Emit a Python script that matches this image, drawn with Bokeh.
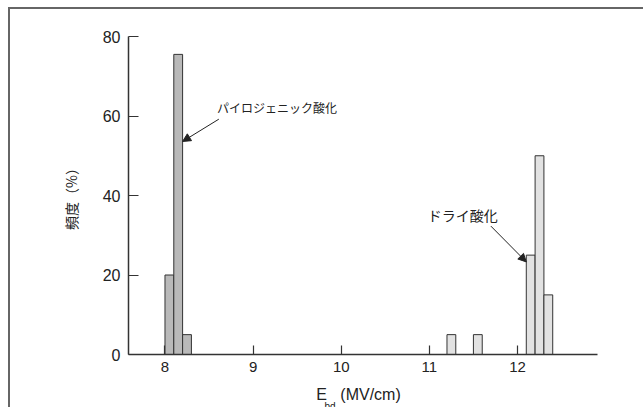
from bokeh.plotting import figure
from bokeh.models import Range1d, FixedTicker, Label, Arrow, NormalHead, Title
from bokeh.embed import file_html
from bokeh.resources import INLINE

# ---- data ----
bin_width = 0.1
pyro_bin_start = [8.0, 8.1, 8.2]
pyro_freq = [20, 75.5, 5]
dry_bin_start = [11.2, 11.5, 12.1, 12.2, 12.3]
dry_freq = [5, 5, 25, 50, 15]
x_ticks = [8, 9, 10, 11, 12]
y_ticks = [0, 20, 40, 60, 80]
pyro_label = "パイロジェニック酸化"
dry_label = "ドライ酸化"
y_label = "頻度（%）"
NB = "\u00a0"
x_label_main = "E" + NB * 3 + "(MV/cm)" + NB * 2
x_label_sub = "bd"

JP = "Noto Sans CJK JP"
LAT = "Liberation Sans"
INK = "#222222"

p = figure(width=643, height=407, output_backend="svg", toolbar_location=None,
           x_range=Range1d(7.586, 12.908), y_range=Range1d(0, 80),
           min_border_left=128, min_border_right=46, min_border_top=36, min_border_bottom=53)
p.grid.visible = False
p.outline_line_color = None
p.background_fill_color = "white"
p.border_fill_color = None
p.styles = {"box-shadow": "inset 8px 7px 0 0 #ffffff, inset 10px 9px 0 0 #666666"}

p.quad(left=pyro_bin_start, right=[v + bin_width for v in pyro_bin_start], bottom=0, top=pyro_freq,
       fill_color="#b9b9b9", line_color="#333333", line_width=1)
p.quad(left=dry_bin_start, right=[v + bin_width for v in dry_bin_start], bottom=0, top=dry_freq,
       fill_color="#e2e2e2", line_color="#333333", line_width=1)

for ax, ticks, tin, fs in ((p.xaxis, x_ticks, 9, "15px"), (p.yaxis, y_ticks, 10, "16px")):
    ax.ticker = FixedTicker(ticks=ticks)
    ax.major_tick_in = tin
    ax.major_tick_out = 0
    ax.minor_tick_line_color = None
    ax.axis_line_color = "#333333"
    ax.axis_line_width = 1.5
    ax.major_tick_line_color = "#333333"
    ax.major_tick_line_width = 1.2
    ax.major_label_text_font = LAT
    ax.major_label_text_font_size = fs
    ax.major_label_text_color = INK
    ax.axis_label_text_font_style = "normal"
    ax.axis_label_text_color = INK
p.yaxis.major_label_standoff = 8
p.xaxis.major_label_standoff = 7

p.yaxis.axis_label = y_label
p.yaxis.axis_label_text_font = JP
p.yaxis.axis_label_text_font_size = "14px"
p.yaxis.axis_label_standoff = 19

p.xaxis.axis_label = x_label_main
p.xaxis.axis_label_text_font = LAT
p.xaxis.axis_label_text_font_size = "16px"
p.xaxis.axis_label_text_line_height = 0.3
p.xaxis.axis_label_standoff = 11

p.add_layout(Title(text=x_label_sub, align="left", offset=196, standoff=-13, text_font=LAT,
                   text_font_size="10px", text_font_style="normal", text_color=INK), "below")

# annotation texts and arrows
p.add_layout(Label(x=8.59, y=62.1, text=pyro_label, text_font=JP, text_font_size="12px",
                   text_baseline="middle", text_align="left", text_color=INK))
p.add_layout(Label(x=10.983, y=35.0, text=dry_label, text_font=JP, text_font_size="14px",
                   text_baseline="middle", text_align="left", text_color=INK))
p.add_layout(Arrow(x_start=8.611, y_start=59.2, x_end=8.2, y_end=53.6, line_color=INK, line_width=1,
                   end=NormalHead(size=8, fill_color=INK, line_color=INK)))
p.add_layout(Arrow(x_start=11.698, y_start=32.3, x_end=12.1, y_end=23.3, line_color=INK, line_width=1,
                   end=NormalHead(size=8, fill_color=INK, line_color=INK)))

open("out.html", "w").write(file_html(p, INLINE))
